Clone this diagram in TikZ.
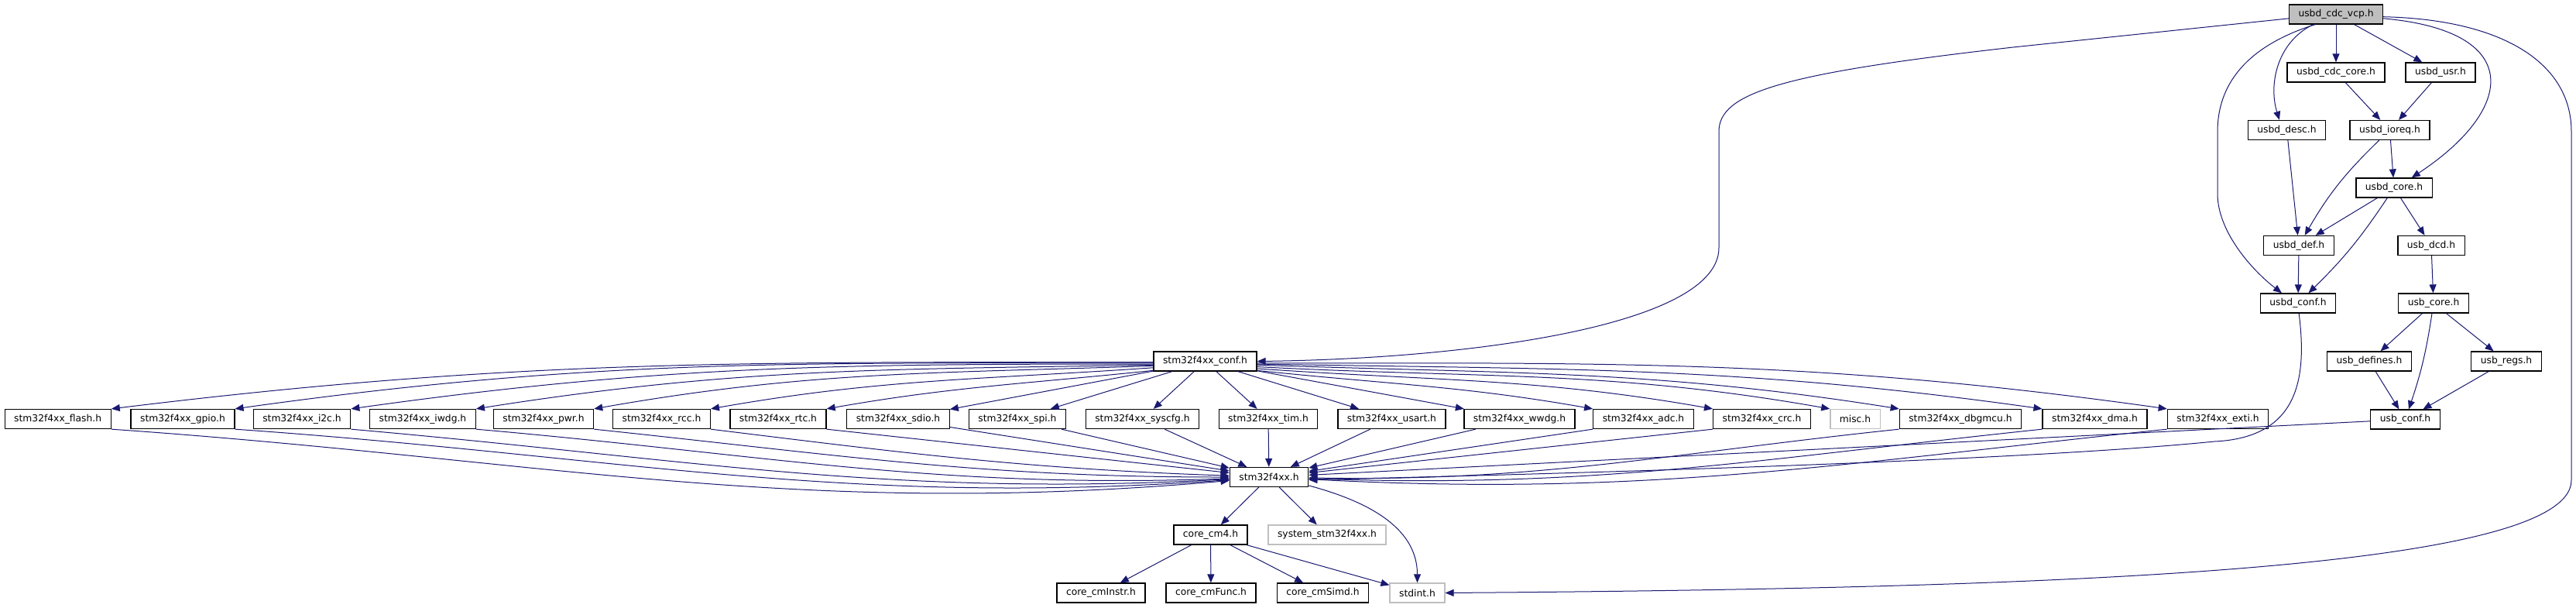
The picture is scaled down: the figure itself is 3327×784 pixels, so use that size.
\documentclass[tikz,border=0pt]{standalone}
\usepackage{fontspec}
\setmainfont{DejaVu Sans}
\usetikzlibrary{arrows.meta}
\definecolor{edgeblue}{HTML}{191970}
\definecolor{boxgray}{HTML}{BFBFBF}
\tikzset{
  hdr/.style={draw=black, line width=0.65pt, fill=white, minimum height=12.5pt,
    inner xsep=6pt, inner ysep=0pt, font=\fontsize{6.15}{7}\selectfont},
  hdrext/.style={hdr, draw=boxgray},
  hdrroot/.style={hdr, fill=boxgray},
  inc/.style={draw=edgeblue, line width=0.5pt,
    -{Triangle[length=5.5pt,width=4.5pt,fill=edgeblue]}},
}
\begin{document}
\begin{tikzpicture}[x=0.5pt,y=-0.5pt]
        \useasboundingbox (0,0) rectangle (3327,784);
        % usb device stack
        \node[hdrroot] (vcp) at (3017,18.5) {usbd\_cdc\_vcp.h};
        \node[hdr] (cdccore) at (3017,93.5) {usbd\_cdc\_core.h};
        \node[hdr] (usr) at (3152,93.5) {usbd\_usr.h};
        \node[hdr] (desc) at (2953.5,168) {usbd\_desc.h};
        \node[hdr] (ioreq) at (3086.5,168) {usbd\_ioreq.h};
        \node[hdr] (core) at (3092,242.5) {usbd\_core.h};
        \node[hdr] (def) at (2969,317) {usbd\_def.h};
        \node[hdr] (dcd) at (3140,317) {usb\_dcd.h};
        \node[hdr] (dconf) at (2968,391.5) {usbd\_conf.h};
        \node[hdr] (ucore) at (3143,391.5) {usb\_core.h};
        \node[hdr] (defines) at (3060,466.5) {usb\_defines.h};
        \node[hdr] (regs) at (3237,466.5) {usb\_regs.h};
        \node[hdr] (uconf) at (3106.5,541.5) {usb\_conf.h};
        % peripheral drivers
        \node[hdr] (stmconf) at (1556.5,466.5) {stm32f4xx\_conf.h};
        \node[hdr] (flash) at (74.7,541) {stm32f4xx\_flash.h};
        \node[hdr] (gpio) at (236,541) {stm32f4xx\_gpio.h};
        \node[hdr] (i2c) at (390,541) {stm32f4xx\_i2c.h};
        \node[hdr] (iwdg) at (546,541) {stm32f4xx\_iwdg.h};
        \node[hdr] (pwr) at (702,541) {stm32f4xx\_pwr.h};
        \node[hdr] (rcc) at (854.5,541) {stm32f4xx\_rcc.h};
        \node[hdr] (rtc) at (1005,541) {stm32f4xx\_rtc.h};
        \node[hdr] (sdio) at (1160,541) {stm32f4xx\_sdio.h};
        \node[hdr] (spi) at (1314,541) {stm32f4xx\_spi.h};
        \node[hdr] (syscfg) at (1475.5,541) {stm32f4xx\_syscfg.h};
        \node[hdr] (tim) at (1638,541) {stm32f4xx\_tim.h};
        \node[hdr] (usart) at (1797.5,541) {stm32f4xx\_usart.h};
        \node[hdr] (wwdg) at (1962.5,541) {stm32f4xx\_wwdg.h};
        \node[hdr] (adc) at (2122.5,541) {stm32f4xx\_adc.h};
        \node[hdr] (crc) at (2275.5,541) {stm32f4xx\_crc.h};
        \node[hdrext] (misc) at (2396,541) {misc.h};
        \node[hdr] (dbgmcu) at (2532,541) {stm32f4xx\_dbgmcu.h};
        \node[hdr] (dma) at (2705.5,541) {stm32f4xx\_dma.h};
        \node[hdr] (exti) at (2864.5,541) {stm32f4xx\_exti.h};
        % device and core
        \node[hdr] (stm) at (1639,616) {stm32f4xx.h};
        \node[hdr] (cm4) at (1563.5,690.5) {core\_cm4.h};
        \node[hdrext] (sysstm) at (1714,690.5) {system\_stm32f4xx.h};
        \node[hdr] (instr) at (1422,765.5) {core\_cmInstr.h};
        \node[hdr] (func) at (1564,765.5) {core\_cmFunc.h};
        \node[hdr] (simd) at (1708.5,765.5) {core\_cmSimd.h};
        \node[hdrext] (stdint) at (1830.5,765.5) {stdint.h};
        % includes of the root
        \draw[inc] (vcp.185) -- (2600,61) .. controls (2300,95) and (2220,120) .. (2220,170)
          -- (2220,320) .. controls (2220,420) and (1900,463) .. (stmconf.east);
        \draw[inc] (vcp) -- (cdccore);
        \draw[inc] (vcp) -- (usr);
        \draw[inc] (vcp.204) .. controls (2940,55) and (2930,110) .. (desc.126);
        \draw[inc] (vcp.206) .. controls (2900,60) and (2864,110) .. (2864,170)
          -- (2864,250) .. controls (2864,300) and (2910,350) .. (dconf.148);
        \draw[inc] (vcp.-5) .. controls (3260,40) and (3250,140) .. (core.30);
        \draw[inc] (vcp.-3) .. controls (3230,25) and (3321,80) .. (3321,170)
          -- (3321,620) .. controls (3321,740) and (2600,760) .. (stdint.east);
        % usb stack
        \draw[inc] (cdccore) -- (ioreq);
        \draw[inc] (usr) -- (ioreq);
        \draw[inc] (desc) -- (def);
        \draw[inc] (ioreq) to[bend right=8] (def);
        \draw[inc] (ioreq) -- (core);
        \draw[inc] (core) -- (def);
        \draw[inc] (core) to[bend left=6] (dconf);
        \draw[inc] (core) -- (dcd);
        \draw[inc] (def) -- (dconf);
        \draw[inc] (dcd) -- (ucore);
        \draw[inc] (ucore) -- (defines);
        \draw[inc] (ucore) to[bend left=5] (uconf);
        \draw[inc] (ucore) -- (regs);
        \draw[inc] (defines) -- (uconf);
        \draw[inc] (regs) -- (uconf);
        \draw[inc] (dconf.-85) .. controls (2980,490) and (2968,565) .. (2860,570)
          .. controls (2600,596) and (2000,612) .. (stm.-4);
        \draw[inc] (uconf) -- (stm);
        % stm32f4xx_conf.h to the drivers
        \draw[inc] (stmconf.181) to[out=180,in=7] (flash.north east);
        \draw[inc] (stmconf.182) to[out=180,in=8] (gpio.north east);
        \draw[inc] (stmconf.183) to[out=180,in=8] (i2c.north east);
        \draw[inc] (stmconf.184) to[out=181,in=9] (iwdg.north east);
        \draw[inc] (stmconf.185) to[out=182,in=10] (pwr.north east);
        \draw[inc] (stmconf.187) to[out=184,in=10] (rcc.north east);
        \draw[inc] (stmconf.190) to[out=186,in=10] (rtc.north east);
        \draw[inc] (stmconf) -- (sdio);
        \draw[inc] (stmconf) -- (spi);
        \draw[inc] (stmconf) -- (syscfg);
        \draw[inc] (stmconf) -- (tim);
        \draw[inc] (stmconf) -- (usart);
        \draw[inc] (stmconf) -- (wwdg);
        \draw[inc] (stmconf.-10) to[out=-6,in=170] (adc.north west);
        \draw[inc] (stmconf.-8) to[out=-4,in=170] (crc.north west);
        \draw[inc] (stmconf.-6) to[out=-3,in=170] (misc.north west);
        \draw[inc] (stmconf.-4) to[out=-2,in=171] (dbgmcu.north west);
        \draw[inc] (stmconf.-3) to[out=-1,in=172] (dma.north west);
        \draw[inc] (stmconf.-2) to[out=0,in=172] (exti.north west);
        % drivers to stm32f4xx.h
        \draw[inc] (flash.south east) to[out=-4,in=185] (stm);
        \draw[inc] (gpio.south east) to[out=-4,in=184] (stm);
        \draw[inc] (i2c.south east) to[out=-5,in=183] (stm);
        \draw[inc] (iwdg.south east) to[out=-5,in=182] (stm);
        \draw[inc] (pwr.south east) to[out=-6,in=180] (stm);
        \draw[inc] (rcc.south east) to[out=-7,in=178] (stm);
        \draw[inc] (rtc.south east) -- (stm);
        \draw[inc] (sdio) -- (stm);
        \draw[inc] (spi) -- (stm);
        \draw[inc] (syscfg) -- (stm);
        \draw[inc] (tim) -- (stm);
        \draw[inc] (usart) -- (stm);
        \draw[inc] (wwdg) -- (stm);
        \draw[inc] (adc.south west) -- (stm);
        \draw[inc] (crc.south west) -- (stm);
        \draw[inc] (dbgmcu.south west) to[out=186,in=-1] (stm);
        \draw[inc] (dma.south west) to[out=186,in=-2] (stm);
        \draw[inc] (exti.south west) to[out=186,in=-3] (stm);
        % device header
        \draw[inc] (stm) -- (cm4);
        \draw[inc] (stm) -- (sysstm);
        \draw[inc] (stm.-12) to[out=-15,in=90] (stdint);
        \draw[inc] (cm4) -- (instr);
        \draw[inc] (cm4) -- (func);
        \draw[inc] (cm4) -- (simd);
        \draw[inc] (cm4) -- (stdint);
\end{tikzpicture}
\end{document}
